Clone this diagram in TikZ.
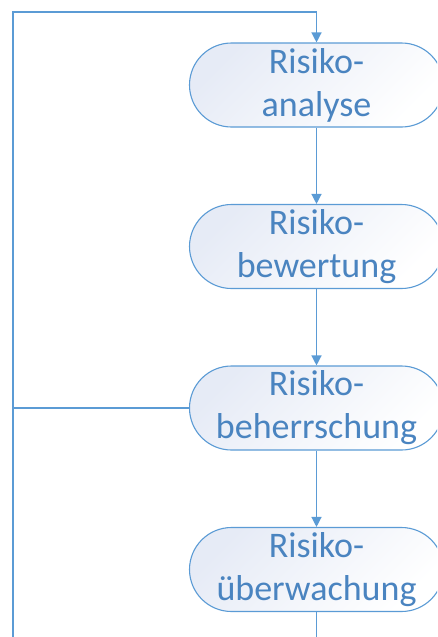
\documentclass[tikz,border=0pt]{standalone}
\usepackage{fontspec}
\setmainfont{Carlito}
\usetikzlibrary{arrows.meta}
\definecolor{lineblue}{HTML}{5B9BD5}
\definecolor{textblue}{HTML}{4A84C0}
\definecolor{shadeblue}{HTML}{E6EBF6}
\tikzset{
  stage/.style={draw=lineblue, line width=1.1pt, rounded corners=42pt,
    minimum width=254pt, minimum height=84pt, inner sep=0pt,
    left color=shadeblue, right color=white, shading angle=45,
    text=textblue, align=center, font=\fontsize{36}{43}\selectfont},
  flow/.style={draw=lineblue, line width=1.3pt},
  flowarrow/.style={flow, -{Triangle[width=10pt,length=10pt]}}
}
\begin{document}
\begin{tikzpicture}[x=1pt, y=-1pt]
  \clip (0,0) rectangle (437,637);
  \node[stage] (analyse) at (316.5,85) {Risiko-\\analyse};
  \node[stage] (bewertung) at (316.5,246.5) {Risiko-\\bewertung};
  \node[stage] (beherrschung) at (316.5,408) {Risiko-\\beherrschung};
  \node[stage] (ueberwachung) at (316.5,569.5) {Risiko-\\überwachung};
  \coordinate (corner) at (13,12);
  \coordinate (bottomleft) at (13,637);
  \coordinate (joint) at (13,408);
  \coordinate (exit) at (316.5,637);
  % feedback loop back to the analysis
  \draw[flowarrow] (bottomleft) -- (corner) -| (analyse.north);
  \draw[flow] (beherrschung.west) -- (joint);
  % main sequence
  \draw[flowarrow] (analyse) -- (bewertung);
  \draw[flowarrow] (bewertung) -- (beherrschung);
  \draw[flowarrow] (beherrschung) -- (ueberwachung);
  \draw[flow] (ueberwachung) -- (exit);
\end{tikzpicture}
\end{document}
